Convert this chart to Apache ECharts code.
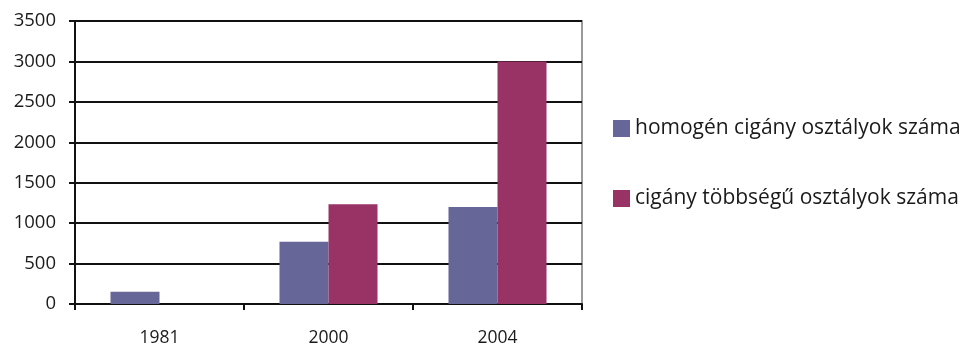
<!DOCTYPE html>
<html><head><meta charset="utf-8">
<script src="https://cdn.jsdelivr.net/npm/echarts@6/dist/echarts.min.js"></script>
<style>html,body{margin:0;padding:0;background:#fff}#c{width:966px;height:349px}</style>
</head><body><div id="c"></div>
<script>
const categories = ['1981', '2000', '2004'];
const seriesNames = ['homogén cigány osztályok száma', 'cigány többségű osztályok száma'];
const homogen = [150, 770, 1200];
const tobbsegu = [null, 1235, 3000];
const colors = ['#666699', '#993366'];
const FONT = 'Open Sans';

const chart = echarts.init(document.getElementById('c'), null, {renderer: 'canvas'});
chart.setOption({
  animation: false,
  backgroundColor: '#fff',
  color: colors,
  textStyle: {fontFamily: FONT},
  grid: {left: 75, right: 384, top: 21, bottom: 45, show: true, borderColor: '#9a9a9a', borderWidth: 2},
  legend: {
    orient: 'vertical', left: 608, top: 113, itemGap: 49,
    itemWidth: 17, itemHeight: 17, icon: 'rect',
    textStyle: {fontFamily: FONT, fontSize: 21, color: '#1a1a1a'},
    data: seriesNames
  },
  xAxis: {
    type: 'category', data: categories,
    axisLine: {lineStyle: {color: '#111', width: 2}},
    axisTick: {show: true, length: 6, lineStyle: {color: '#111', width: 2}},
    axisLabel: {fontFamily: FONT, fontSize: 17.5, color: '#1a1a1a', margin: 25},
    splitLine: {show: false}
  },
  yAxis: {
    type: 'value', min: 0, max: 3500, interval: 500,
    axisLine: {show: true, lineStyle: {color: '#111', width: 2}},
    axisTick: {show: true, length: 6, lineStyle: {color: '#111', width: 2}},
    axisLabel: {fontFamily: FONT, fontSize: 18.5, color: '#1a1a1a', margin: 19, formatter: v => String(v)},
    splitLine: {lineStyle: {color: '#111', width: 2}}
  },
  series: [
    {name: seriesNames[0], type: 'bar', data: homogen, barGap: '0%', barCategoryGap: '42%', itemStyle: {color: colors[0]}},
    {name: seriesNames[1], type: 'bar', data: tobbsegu, barGap: '0%', barCategoryGap: '42%', itemStyle: {color: colors[1]}}
  ]
});
</script></body></html>
